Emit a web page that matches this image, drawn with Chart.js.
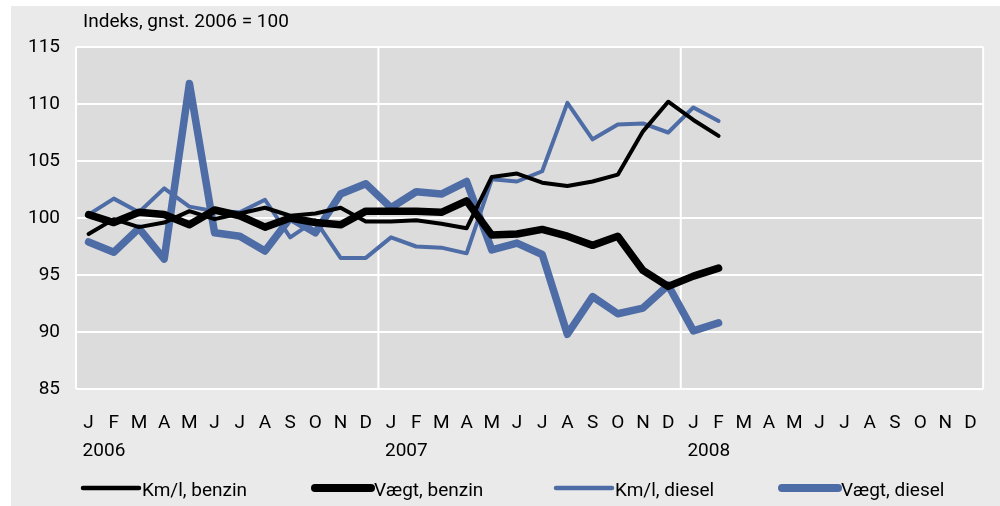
<!DOCTYPE html>
<html>
<head>
<meta charset="utf-8">
<script src="https://cdn.jsdelivr.net/npm/chart.js@4.4.1/dist/chart.umd.min.js"></script>
<style>
  html, body { margin: 0; padding: 0; background: #ffffff; }
  #wrap { position: absolute; left: 11px; top: 6px; width: 989px; height: 500px; }
</style>
</head>
<body>
<div id="wrap"><canvas id="myChart" width="989" height="500"></canvas></div>
<script>
// months J 2006 .. D 2008
const months = ['J', 'F', 'M', 'A', 'M', 'J', 'J', 'A', 'S', 'O', 'N', 'D',
                'J', 'F', 'M', 'A', 'M', 'J', 'J', 'A', 'S', 'O', 'N', 'D',
                'J', 'F', 'M', 'A', 'M', 'J', 'J', 'A', 'S', 'O', 'N', 'D'];
const years = ['2006', '2007', '2008'];
const yTicks = [85, 90, 95, 100, 105, 110, 115];

const kmBenzin = [98.6, 99.9, 99.2, 99.6, 100.6, 99.9, 100.4, 100.9, 100.2, 100.4, 100.9, 99.7,
                  99.7, 99.8, 99.5, 99.1, 103.6, 103.9, 103.1, 102.8, 103.2, 103.8, 107.6, 110.2,
                  108.6, 107.2];
const vaegtBenzin = [100.3, 99.6, 100.5, 100.3, 99.4, 100.7, 100.2, 99.2, 100.0, 99.6, 99.4, 100.6,
                     100.6, 100.6, 100.5, 101.5, 98.5, 98.6, 99.0, 98.4, 97.6, 98.4, 95.4, 94.0,
                     94.9, 95.6];
const kmDiesel = [100.3, 101.7, 100.5, 102.6, 101.0, 100.6, 100.5, 101.6, 98.3, 99.8, 96.5, 96.5,
                  98.3, 97.5, 97.4, 96.9, 103.4, 103.2, 104.1, 110.1, 106.9, 108.2, 108.3, 107.5,
                  109.7, 108.5];
const vaegtDiesel = [97.9, 97.0, 99.1, 96.4, 111.8, 98.7, 98.4, 97.1, 100.0, 98.7, 102.1, 103.0,
                     100.9, 102.3, 102.1, 103.2, 97.2, 97.8, 96.8, 89.8, 93.1, 91.6, 92.1, 94.1,
                     90.1, 90.8];

const FONT = "'Liberation Sans Narrow', 'Roboto', sans-serif";
const BLUE = '#4e6ca5';

function line(label, data, color, width) {
    return {
        label: label,
        data: data,
        borderColor: color,
        backgroundColor: color,
        borderWidth: width,
        pointRadius: 0,
        tension: 0,
        borderCapStyle: 'round',
        borderJoinStyle: 'round'
    };
}

// background, plot area and white vertical lines
const backdrop = {
    id: 'backdrop',
    beforeDraw(chart) {
        const c = chart.ctx, a = chart.chartArea;
        c.save();
        c.fillStyle = '#eaeaea';
        c.fillRect(0, 0, chart.width, chart.height);
        c.fillStyle = '#dcdcdc';
        c.fillRect(a.left, a.top, a.right - a.left, a.bottom - a.top);
        c.restore();
    },
    beforeDatasetsDraw(chart) {
        const c = chart.ctx, a = chart.chartArea, x = chart.scales.x;
        const xs = [a.left, a.right];
        for (let i = 12; i < months.length; i += 12) {
            xs.push((x.getPixelForValue(i - 1) + x.getPixelForValue(i)) / 2);
        }
        c.save();
        c.strokeStyle = '#ffffff';
        c.lineWidth = 2;
        xs.forEach(px => {
            c.beginPath();
            c.moveTo(px, a.top);
            c.lineTo(px, a.bottom);
            c.stroke();
        });
        c.restore();
    }
};

// title, year labels and legend
const texts = {
    id: 'texts',
    afterDraw(chart) {
        const c = chart.ctx, x = chart.scales.x;
        c.save();
        c.fillStyle = '#000000';
        c.font = '19px ' + FONT;
        c.textAlign = 'left';
        c.textBaseline = 'alphabetic';
        c.fillText('Indeks, gnst. 2006 = 100', 72, 21);

        c.textBaseline = 'middle';
        years.forEach((y, i) => {
            c.fillText(y, x.getPixelForValue(i * 12) - 6, 445);
        });

        const spots = [72, 304, 545, 771];
        chart.data.datasets.forEach((ds, i) => {
            const x0 = spots[i];
            c.strokeStyle = ds.borderColor;
            c.lineWidth = ds.borderWidth + 0.5;
            c.lineCap = 'round';
            c.beginPath();
            c.moveTo(x0, 482);
            c.lineTo(x0 + 56, 482);
            c.stroke();
            c.fillText(ds.label, x0 + 59, 485);
        });
        c.restore();
    }
};

const ctx = document.getElementById('myChart').getContext('2d');
new Chart(ctx, {
    type: 'line',
    data: {
        labels: months,
        datasets: [
            line('Km/l, benzin', kmBenzin, '#000000', 4),
            line('Vægt, benzin', vaegtBenzin, '#000000', 7.5),
            line('Km/l, diesel', kmDiesel, BLUE, 4),
            line('Vægt, diesel', vaegtDiesel, BLUE, 7.5)
        ]
    },
    options: {
        responsive: false,
        animation: false,
        layout: { padding: { top: 41, right: 14, left: 0, bottom: 0 } },
        plugins: {
            legend: { display: false },
            tooltip: { enabled: false }
        },
        scales: {
            x: {
                offset: true,
                grid: { display: false, drawTicks: false, tickLength: 0 },
                border: { display: false },
                ticks: {
                    color: '#000000',
                    font: { family: FONT, size: 19 },
                    padding: 23,
                    maxRotation: 0,
                    autoSkip: false
                },
                afterFit(scale) { scale.height = 117; }
            },
            y: {
                min: yTicks[0],
                max: yTicks[yTicks.length - 1],
                afterBuildTicks(scale) { scale.ticks = yTicks.map(v => ({ value: v })); },
                grid: { color: '#ffffff', lineWidth: 2, drawTicks: false, tickLength: 0 },
                border: { display: false },
                ticks: {
                    color: '#000000',
                    font: { family: FONT, size: 19 },
                    padding: 16
                },
                afterFit(scale) { scale.width = 65; }
            }
        }
    },
    plugins: [backdrop, texts]
});
</script>
</body>
</html>
